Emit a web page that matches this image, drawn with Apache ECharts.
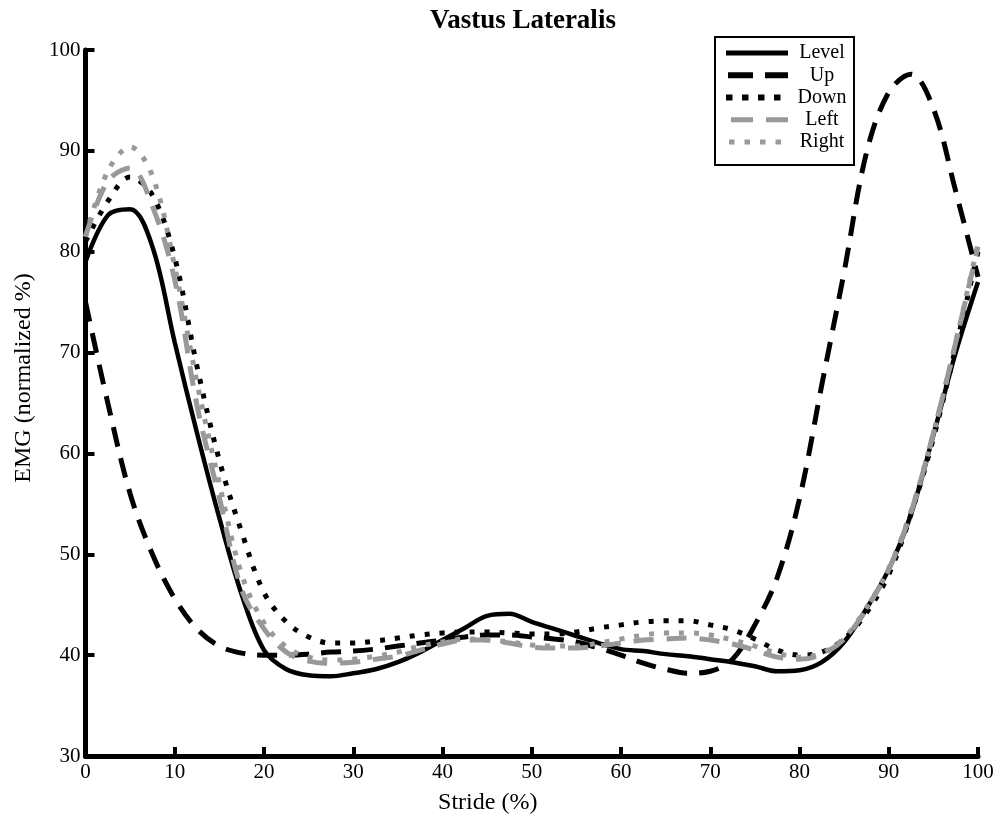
<!DOCTYPE html>
<html>
<head>
<meta charset="utf-8">
<script src="https://cdn.jsdelivr.net/npm/echarts@6/dist/echarts.min.js"></script>
<style>
  html, body { margin: 0; padding: 0; background: #fff; }
  #chart { width: 1001px; height: 820px; }
</style>
</head>
<body>
<div id="chart"></div>
<script>
// Stride position (% of gait cycle)
const stride = [0, 2.5, 5, 7.5, 10, 12.5, 15, 17.5, 20, 22.5, 25, 27.5, 30, 32.5, 35, 37.5, 40,
  42.5, 45, 47.5, 50, 52.5, 55, 57.5, 60, 62.5, 65, 67.5, 70, 72.5, 75, 77.5, 80,
  82.5, 85, 87.5, 90, 92.5, 95, 97.5, 100];

// Normalized EMG (%) for each walking condition
const level = [79, 83.6, 84.2, 80.5, 71, 62, 53.6, 46, 40.5, 38.6, 38.0, 37.9, 38.2, 38.6, 39.3, 40.3, 41.5,
  42.7, 43.9, 44.1, 43.3, 42.6, 41.9, 41.2, 40.6, 40.4, 40.1, 39.9, 39.6, 39.3, 38.9, 38.4, 38.5,
  39.3, 41.3, 44.6, 48.5, 54, 61.8, 70, 77];
const up = [75, 65, 56, 50, 45.6, 42.6, 40.9, 40.2, 40.0, 40.0, 40.1, 40.3, 40.4, 40.6, 40.9, 41.2, 41.5,
  41.8, 42.0, 42.0, 41.8, 41.6, 41.3, 40.7, 40.0, 39.2, 38.6, 38.2, 38.4, 39.6, 43.0, 47.7, 55.5,
  66.8, 78, 89.8, 95.8, 97.6, 94.2, 86, 77.5];
const down = [81, 85, 87.4, 85.6, 79.4, 68.6, 59.3, 52.2, 46.2, 43.3, 41.8, 41.2, 41.2, 41.4, 41.7, 42.0, 42.2,
  42.3, 42.3, 42.2, 42.1, 42.1, 42.3, 42.7, 43.0, 43.3, 43.4, 43.4, 43.0, 42.5, 41.6, 40.5, 40.0,
  40.3, 41.6, 44.2, 48, 54, 61.5, 70.5, 80];
const left = [81.5, 87, 88.3, 84.5, 77.2, 64.7, 55.6, 46.5, 42.6, 40.3, 39.4, 39.2, 39.3, 39.6, 39.9, 40.5, 41.1,
  41.5, 41.5, 41.2, 40.8, 40.7, 40.7, 40.9, 41.2, 41.5, 41.6, 41.7, 41.5, 41.1, 40.5, 39.8, 39.6,
  40.1, 41.6, 44.6, 48.5, 54.2, 62, 71, 80.5];
const right = [81.5, 88, 90.4, 87.5, 78.5, 67, 57, 48, 43.2, 40.8, 39.8, 39.5, 39.6, 39.9, 40.3, 40.9, 41.3,
  41.6, 41.5, 41.3, 41.0, 40.9, 40.9, 41.2, 41.6, 42.0, 42.2, 42.2, 42.0, 41.5, 40.9, 40.2, 39.8,
  40.2, 41.7, 44.7, 48.6, 54.3, 62, 71, 80.8];

const seriesNames = ['Level', 'Up', 'Down', 'Left', 'Right'];
const xTicks = [0, 10, 20, 30, 40, 50, 60, 70, 80, 90, 100];
const yTicks = [30, 40, 50, 60, 70, 80, 90, 100];

const FONT = '"Liberation Serif", "Times New Roman", "DejaVu Serif", serif';
const GRAY = '#999999';

function pairs(ys) { return stride.map((x, i) => [x, ys[i]]); }

// Line appearance in the plot area
const styles = [
  { color: '#000', type: 'solid', width: 4.5 },
  { color: '#000', type: [20, 12], width: 5 },
  { color: '#000', type: [5, 10], width: 5 },
  { color: GRAY, type: [20, 13], width: 5 },
  { color: GRAY, type: [5, 10], width: 5 }
];
// Line appearance of the legend keys
const keyStyles = [
  { type: 'solid', width: 5, dashOffset: 0 },
  { type: [25, 12], width: 6, dashOffset: -2 },
  { type: [6.5, 9.5], width: 6, dashOffset: 0 },
  { type: [22, 13], width: 5, dashOffset: 30 },
  { type: [5.5, 10], width: 5, dashOffset: 12.5 }
];
const values = [level, up, down, left, right];

const chart = echarts.init(document.getElementById('chart'), null, { renderer: 'canvas' });
chart.setOption({
  animation: false,
  backgroundColor: '#fff',
  title: {
    text: 'Vastus Lateralis',
    left: 518, top: 3, textAlign: 'center',
    textStyle: { fontFamily: FONT, fontWeight: 'bold', fontSize: 27, color: '#000' }
  },
  legend: {
    data: seriesNames.map((name, i) => ({
      name,
      itemStyle: { opacity: 0 },
      lineStyle: {
        color: styles[i].color, width: keyStyles[i].width, type: keyStyles[i].type,
        dashOffset: keyStyles[i].dashOffset, cap: 'butt'
      }
    })),
    orient: 'vertical',
    left: 715, top: 37,
    padding: [6, 3, 13, 8],
    itemWidth: 62, itemHeight: 14, itemGap: 2.25,
    borderColor: '#000', borderWidth: 2,
    backgroundColor: '#fff',
    formatter: name => '{c|' + name + '}',
    textStyle: {
      fontFamily: FONT, fontSize: 20, color: '#000',
      rich: { c: { width: 58, align: 'center', fontFamily: FONT, fontSize: 20, lineHeight: 14, color: '#000' } }
    }
  },
  grid: { left: 85.5, right: 23, top: 50, bottom: 64, containLabel: false },
  xAxis: {
    type: 'value', min: 0, max: 100, interval: 10,
    name: 'Stride (%)', nameLocation: 'middle', nameGap: 35,
    nameTextStyle: { fontFamily: FONT, fontSize: 24, color: '#000', padding: [0, 88, 0, 0] },
    axisLine: { onZero: false, lineStyle: { color: '#000', width: 5 } },
    axisTick: { inside: true, length: 9, lineStyle: { color: '#000', width: 4 } },
    axisLabel: { fontFamily: FONT, fontSize: 21, color: '#000', margin: 6,
      formatter: v => xTicks.includes(v) ? String(v) : '' },
    splitLine: { show: false }
  },
  yAxis: {
    type: 'value', min: 30, max: 100, interval: 10,
    name: 'EMG (normalized %)', nameLocation: 'middle', nameGap: 50,
    nameTextStyle: { fontFamily: FONT, fontSize: 24, color: '#000', padding: [0, 0, 0, 50] },
    axisLine: { onZero: false, lineStyle: { color: '#000', width: 5 } },
    axisTick: { inside: true, length: 9, lineStyle: { color: '#000', width: 4 } },
    axisLabel: { fontFamily: FONT, fontSize: 21, color: '#000', margin: 5,
      formatter: v => yTicks.includes(v) ? String(v) : '' },
    splitLine: { show: false }
  },
  series: seriesNames.map((name, i) => ({
    name,
    type: 'line',
    data: pairs(values[i]),
    smooth: 0.35,
    symbol: 'none',
    color: styles[i].color,
    lineStyle: { color: styles[i].color, type: styles[i].type, width: styles[i].width, cap: 'butt' },
    z: 2 + i
  }))
});
</script>
</body>
</html>
